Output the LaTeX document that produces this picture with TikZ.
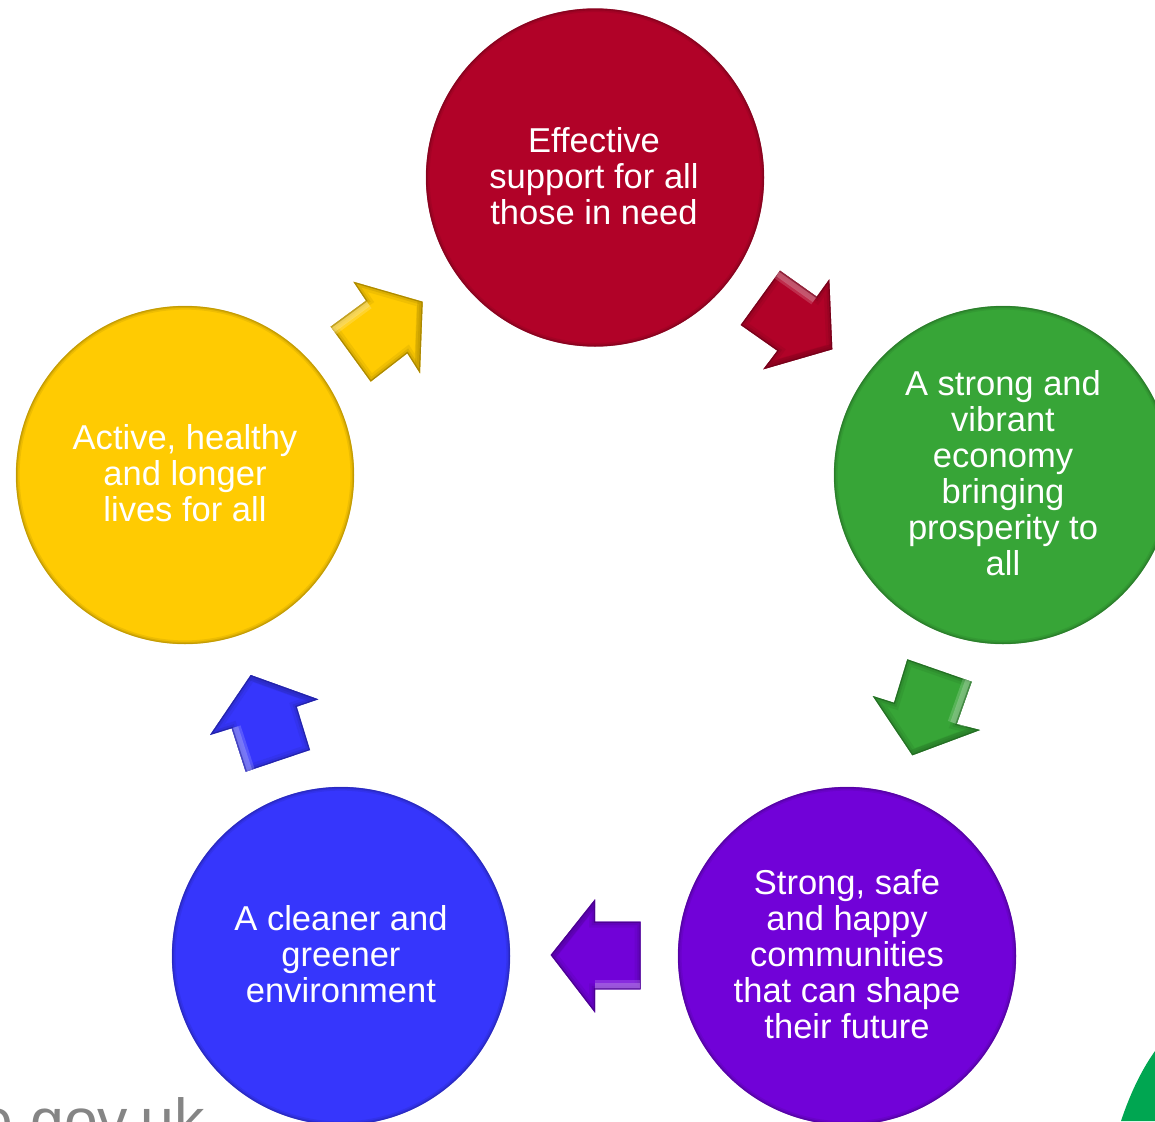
\documentclass[tikz,border=0pt]{standalone}
\usepackage{fontspec}
\setmainfont{Liberation Sans}
\definecolor{cred}{HTML}{B10228}
\definecolor{cgreen}{HTML}{37A537}
\definecolor{cpurple}{HTML}{7102D8}
\definecolor{cblue}{HTML}{3636FC}
\definecolor{cyellow}{HTML}{FFCB02}
\definecolor{cgrey}{HTML}{858585}
\definecolor{cleaf}{HTML}{00A651}
\newcommand{\discshape}[2]{%
  \fill[#1] (#2) circle[radius=169];
  \draw[#1!70!black,line width=2.4pt,opacity=.22] (#2) circle[radius=167];
  \draw[#1!70!black,line width=1.4pt,opacity=.4] (#2) circle[radius=168];
  \draw[#1!70!black,line width=.7pt,opacity=.6] (#2) circle[radius=168.7];
}
% colour, closed outline, highlighted edge, shadow edge
\newcommand{\blockarrow}[4]{%
  \fill[#1] #2 -- cycle;
  \begin{scope}
    \clip #2 -- cycle;
    \draw[#1!75!black,line width=9pt,line join=miter,opacity=.22] #2 -- cycle;
    \draw[#1!70!black,line width=5pt,line join=miter,opacity=.3] #2 -- cycle;
    \draw[#1!55!black,line width=1.8pt,line join=miter,opacity=.6] #2 -- cycle;
    \draw[#1!40!white,line width=14pt,opacity=.28] #3;
    \draw[#1!40!white,line width=10pt,opacity=.38] #3;
    \draw[#1!70!black,line width=2pt,opacity=.6] #3;
    \draw[#1!65!black,line width=8pt,opacity=.3] #4;
  \end{scope}
}
\tikzset{
  disctext/.style={text=white,align=center,font=\fontsize{25.9pt}{27pt}\selectfont,inner sep=0pt},
  webtext/.style={text=cgrey,font=\fontsize{45.5pt}{50pt}\selectfont,inner sep=0pt,anchor=base east}
}
\begin{document}
\begin{tikzpicture}[x=0.75pt,y=-0.75pt]
\useasboundingbox (0,0) rectangle (1155,1121);
\clip (0,0) rectangle (1155,1121);
\fill[white] (0,0) rectangle (1155,1121);

\fill[cleaf] (1155,1051) .. controls (1140,1072) and (1129,1097) .. (1121,1121) -- (1155,1121) -- cycle;
\node[webtext] (web) at (205,1141) {e.gov.uk};

\discshape{cred}{595,177.5}
\discshape{cgreen}{1003,475}
\discshape{cpurple}{847,956}
\discshape{cblue}{341,956}
\discshape{cyellow}{185,475}

\node[disctext] (tred) at (594,176) {Effective\\support for all\\those in need};
\node[disctext] (tgreen) at (1003,473.5) {A strong and\\vibrant\\economy\\bringing\\prosperity to\\all};
\node[disctext] (tpurple) at (847,954) {Strong, safe\\and happy\\communities\\that can shape\\their future};
\node[disctext] (tblue) at (341,954) {A cleaner and\\greener\\environment};
\node[disctext] (tyellow) at (185,473.5) {Active, healthy\\and longer\\lives for all};

\blockarrow{cred}
  {(780,270.7) -- (816.7,296.7) -- (829.3,279.3) -- (832.3,349.3) -- (763.3,369.3) -- (777.3,350.7) -- (740.7,325)}
  {(780,270.7) -- (816.7,296.7)}
  {(832.3,349.3) -- (763.3,369.3)}
\blockarrow{cgreen}
  {(907.3,659.3) -- (971.7,681.7) -- (956.7,724) -- (980,730) -- (912.3,755.3) -- (872.7,696) -- (894,702.7)}
  {(971.7,681.7) -- (956.7,724)}
  {(980,730) -- (912.3,755.3)}
\blockarrow{cpurple}
  {(550.7,955) -- (595,899.3) -- (595,921.7) -- (640.7,921.7) -- (640.7,989.3) -- (595,989.3) -- (595,1012.7)}
  {(595,989.3) -- (640.7,989.3)}
  {(550.7,955) -- (595,899.3)}
\blockarrow{cblue}
  {(250.7,675) -- (318.3,699.3) -- (296.7,706.7) -- (310,750) -- (245.7,771.7) -- (231.7,728.3) -- (210,735)}
  {(245.7,771.7) -- (231.7,728.3)}
  {(250.7,675) -- (318.3,699.3)}
\blockarrow{cyellow}
  {(353.3,281.7) -- (422.7,301.7) -- (420,373.3) -- (407.3,353.3) -- (370.7,381.7) -- (330.7,326.7) -- (366,300.7)}
  {(330.7,326.7) -- (366,300.7)}
  {(422.7,301.7) -- (420,373.3)}
\end{tikzpicture}
\end{document}
